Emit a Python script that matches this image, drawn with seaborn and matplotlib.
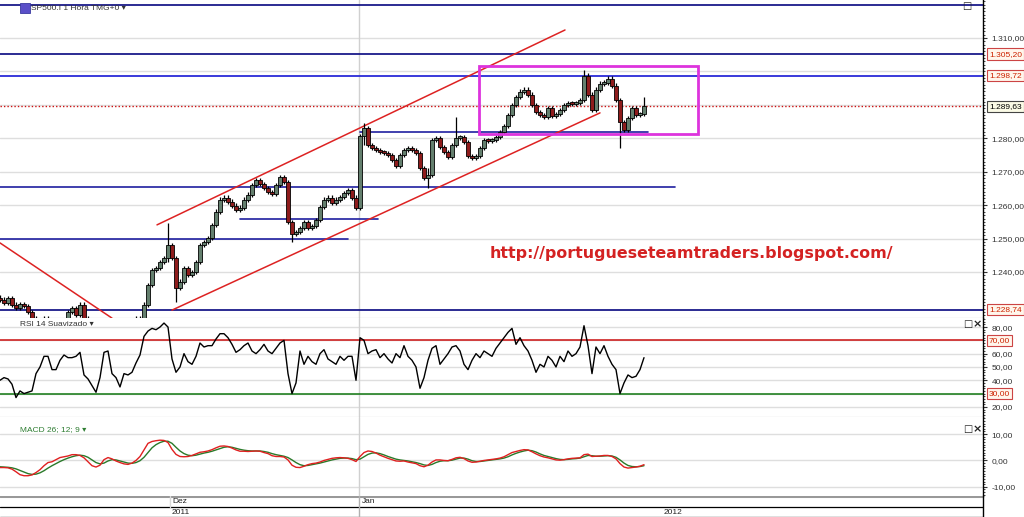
import numpy as np
import pandas as pd
import matplotlib
matplotlib.use("Agg")
import matplotlib.pyplot as plt
import seaborn as sns
from matplotlib.patches import Rectangle
from matplotlib.ticker import FuncFormatter, MultipleLocator
from matplotlib.transforms import blended_transform_factory

sns.set_style("white")
plt.rcParams['font.family'] = ['Liberation Sans', 'DejaVu Sans']

# ---------------- data (hourly bars, SP500) ----------------
close = [
    1231.7, 1230.7, 1232.2, 1230.2, 1229.2, 1230.4, 1229.8, 1228.0, 1226.2, 1225.0,
    1224.1, 1226.2, 1225.0, 1223.8, 1223.2, 1223.8, 1225.0, 1228.0, 1229.2, 1227.1,
    1230.2, 1226.2, 1224.4, 1223.2, 1222.6, 1222.6, 1223.2, 1223.8, 1223.2, 1222.6,
    1223.8, 1224.4, 1223.8, 1225.0, 1226.2, 1225.0, 1230.2, 1236.1, 1240.6, 1241.2,
    1243.0, 1244.2, 1248.1, 1244.2, 1235.2, 1237.1, 1241.2, 1239.1, 1240.0, 1243.0,
    1248.1, 1249.0, 1250.2, 1254.1, 1258.0, 1261.6, 1262.2, 1261.0, 1259.8, 1258.6,
    1259.2, 1261.6, 1263.1, 1266.0, 1267.5, 1266.3, 1265.1, 1263.9, 1263.3, 1266.0,
    1268.4, 1266.9, 1255.0, 1251.4, 1252.0, 1253.2, 1255.0, 1253.2, 1253.8, 1255.6,
    1259.4, 1261.6, 1262.2, 1260.6, 1261.6, 1262.4, 1263.6, 1264.5, 1262.2, 1259.2,
    1280.7, 1283.1, 1278.0, 1277.1, 1276.5, 1275.9, 1275.6, 1275.0, 1273.5, 1271.7,
    1275.0, 1276.5, 1277.1, 1276.5, 1275.6, 1271.1, 1268.1, 1269.0, 1279.5, 1280.1,
    1277.4, 1275.9, 1274.4, 1278.0, 1280.1, 1280.4, 1278.9, 1274.7, 1274.1, 1274.7,
    1277.1, 1279.5, 1279.2, 1279.5, 1280.4, 1281.9, 1283.7, 1287.0, 1290.0, 1292.4,
    1293.9, 1294.5, 1293.0, 1290.0, 1287.9, 1287.0, 1286.4, 1289.1, 1286.7, 1287.3,
    1288.5, 1290.0, 1290.6, 1290.3, 1290.6, 1291.5, 1298.7, 1293.0, 1288.5, 1294.5,
    1296.3, 1296.6, 1297.8, 1295.7, 1291.5, 1284.9, 1282.5, 1286.1, 1289.1, 1287.0,
    1287.3, 1289.6,
]
wick_idx = [42, 44, 73, 91, 107, 114, 146, 155, 161]
wick_lo = [1243.0, 1230.9, 1249.0, 1278.0, 1265.2, 1278.0, 1291.0, 1277.1, 1287.0]
wick_hi = [1254.7, 1244.0, 1255.5, 1284.5, 1271.0, 1286.4, 1300.5, 1285.5, 1292.4]

rsi = [
    40, 42, 41, 37, 27, 32, 30, 31, 32, 45,
    50, 58, 58, 48, 48, 55, 59, 57, 57, 58,
    61, 44, 41, 36, 31, 42, 61, 62, 45, 42,
    35, 45, 44, 46, 53, 59, 73, 77, 79, 78,
    80, 83, 80, 56, 46, 50, 60, 54, 52, 58,
    68, 65, 66, 66, 71, 75, 75, 72, 67, 61,
    63, 66, 68, 62, 60, 63, 67, 62, 60, 64,
    68, 70, 45, 30, 38, 62, 52, 58, 54, 52,
    60, 63, 56, 54, 52, 58, 55, 58, 58, 40,
    72, 70, 60, 62, 63, 57, 60, 56, 53, 60,
    57, 66, 58, 55, 50, 34, 42, 55, 64, 66,
    52, 56, 60, 65, 66, 62, 52, 48, 55, 60,
    57, 62, 60, 58, 64, 68, 72, 76, 79, 67,
    72, 66, 62, 55, 46, 52, 50, 58, 55, 50,
    58, 54, 62, 58, 60, 65, 81, 66, 45, 65,
    60, 66, 58, 52, 48, 30, 38, 44, 42, 43,
    48, 57,
]

macd = [
    -2.7, -2.7, -2.8, -3.3, -4.3, -5.4, -5.8, -5.8, -5.5, -4.6,
    -3.5, -2.0, -0.8, -0.5, 0.3, 1.1, 1.4, 1.7, 2.2, 2.2,
    1.9, 1.0, -0.5, -2.0, -2.5, -1.8, 0.3, 1.1, 0.6, -0.2,
    -0.8, -1.3, -1.5, -1.0, 0.0, 1.5, 4.0, 6.5, 7.2, 7.5,
    7.7, 7.6, 6.8, 4.2, 2.3, 1.5, 1.4, 1.5, 1.9, 2.5,
    3.1, 3.3, 3.6, 4.1, 4.8, 5.4, 5.5, 5.3, 4.7, 4.0,
    3.5, 3.5, 3.4, 3.5, 3.6, 3.5, 3.0, 2.6, 1.8, 1.5,
    1.5, 1.3, 0.2, -1.8, -2.6, -2.7, -2.2, -1.6, -1.2, -1.0,
    -0.6, 0.0, 0.4, 0.8, 1.0, 1.1, 1.0, 0.8, 0.3, -0.4,
    1.5, 3.0, 3.6, 3.4, 2.8, 2.0, 1.4, 0.8, 0.3, -0.2,
    -0.3, -0.2, -0.6, -0.9, -1.2, -2.0, -2.4, -1.8, -0.6, 0.2,
    0.2, 0.0, -0.1, 0.4, 1.0, 1.2, 0.7, -0.2, -0.7, -0.6,
    -0.3, 0.0, 0.2, 0.4, 0.6, 0.9, 1.4, 2.2, 3.0, 3.4,
    3.8, 4.1, 4.0, 3.3, 2.5, 1.8, 1.3, 1.0, 0.6, 0.2,
    0.1, 0.3, 0.6, 0.8, 0.9, 1.0, 2.2, 2.4, 1.5, 1.6,
    1.7, 1.9, 1.9, 1.5, 0.6, -1.2, -2.5, -2.9, -2.7, -2.5,
    -2.2, -1.6,
]
signal = [
    -2.4, -2.5, -2.6, -2.8, -3.2, -3.8, -4.4, -5.0, -5.3, -5.2,
    -4.7, -3.9, -2.9, -2.0, -1.2, -0.4, 0.3, 0.9, 1.4, 1.8,
    2.0, 1.8, 1.2, 0.2, -0.8, -1.3, -1.0, -0.2, 0.3, 0.2,
    -0.2, -0.6, -1.0, -1.1, -0.8, -0.1, 1.2, 3.0, 4.8, 6.0,
    6.8, 7.3, 7.3, 6.5, 5.0, 3.6, 2.6, 2.0, 1.8, 2.0,
    2.4, 2.8, 3.1, 3.5, 4.0, 4.5, 5.0, 5.2, 5.0, 4.6,
    4.2, 3.9, 3.7, 3.6, 3.6, 3.6, 3.4, 3.1, 2.6, 2.2,
    1.9, 1.6, 1.1, 0.2, -0.8, -1.6, -2.0, -1.9, -1.6, -1.3,
    -1.0, -0.6, -0.2, 0.2, 0.5, 0.8, 0.9, 0.9, 0.7, 0.3,
    0.5, 1.4, 2.3, 2.8, 2.9, 2.6, 2.1, 1.5, 1.0, 0.5,
    0.2, 0.0, -0.2, -0.5, -0.8, -1.2, -1.7, -1.9, -1.5, -0.8,
    -0.3, -0.1, -0.1, 0.1, 0.5, 0.9, 0.9, 0.5, -0.1, -0.4,
    -0.4, -0.2, 0.0, 0.2, 0.4, 0.6, 0.9, 1.4, 2.1, 2.7,
    3.2, 3.6, 3.9, 3.7, 3.2, 2.5, 1.9, 1.5, 1.1, 0.7,
    0.4, 0.3, 0.4, 0.6, 0.7, 0.9, 1.4, 1.9, 1.8, 1.6,
    1.6, 1.7, 1.8, 1.7, 1.2, 0.2, -1.0, -1.9, -2.3, -2.4,
    -2.3, -2.0,
]

# support / resistance levels: (price, start bar, end bar)
full_levels = [1319.9, 1305.20, 1298.72, 1228.74]
part_levels = [(1265.5, 0, 168.75), (1250.0, 0, 87.0), (1256.0, 60.0, 94.5), (1281.9, 90.0, 162.0)]
last_price = 1289.63
# trend lines: ((bar0, price0), (bar1, price1))
trend_lines = [((39.25, 1254.1), (141.25, 1312.4)),
               ((43.0, 1228.6), (150.0, 1287.6)),
               ((0.0, 1248.7), (28.0, 1226.2))]
range_box = (119.75, 1281.3, 174.5, 1301.6)
blog_url = "http://portugueseteamtraders.blogspot.com/"

date_labels_top = [("Dez", 43.0), ("Jan", 90.5)]
date_labels_bot = [("2011", 43.0), ("2012", 166.0)]
jan_bar = 89.75
dez_bar = 42.5

price_ticks = [1240, 1250, 1260, 1270, 1280, 1310]
price_grid = [1240, 1250, 1260, 1270, 1280, 1290, 1300, 1310]
rsi_ticks = [20, 40, 50, 60, 80]
rsi_grid = [20, 30, 40, 50, 60, 70, 80]
macd_ticks = [-10, 0, 10]

# ---------------- figure ----------------
W, H = 1024, 517
fig = plt.figure(figsize=(W / 100, H / 100), dpi=100)
fig.patch.set_facecolor("white")


def ax_px(x0, y0, x1, y1):
    return fig.add_axes([x0 / W, 1 - y1 / H, (x1 - x0) / W, (y1 - y0) / H])


XR = 983 / 4.0
axp = ax_px(0, 0, 983, 318)
axr = ax_px(0, 318, 983, 417)
axm = ax_px(0, 417, 983, 496)
axd = ax_px(0, 496, 983, 517)


def br(v, pos=None):
    s = f"{v:,.2f}"
    return s.replace(",", "X").replace(".", ",").replace("X", ".")


GRID = "#dedede"
for ax in (axp, axr, axm, axd):
    ax.set_facecolor("white")
    ax.set_xlim(0, XR)
    ax.set_xticks([])
    for s in ("top", "left", "bottom"):
        ax.spines[s].set_visible(False)
    ax.spines["right"].set_color("black")
    ax.spines["right"].set_linewidth(1.0)
    ax.yaxis.tick_right()
    ax.tick_params(axis="y", which="major", length=3, width=0.8, pad=3,
                   labelsize=6, labelcolor="#333333", colors="#333333")
    ax.tick_params(axis="y", which="minor", length=1.5, width=0.6, right=True)

# ---- price panel ----
axp.set_ylim(1226.24, 1321.37)
for g in price_grid:
    axp.axhline(g, color=GRID, lw=1, zorder=0)
axp.axvline(jan_bar, color="#d0d0d0", lw=1, zorder=0)
axp.set_yticks(price_ticks)
axp.yaxis.set_major_formatter(FuncFormatter(br))
axp.yaxis.set_minor_locator(MultipleLocator(1))
axp.spines["bottom"].set_visible(True)
axp.spines["bottom"].set_color("#9a9a9a")

xs = np.arange(len(close))
opens = np.array([close[0] + 0.6] + close[:-1])
cl = np.array(close)
lo_b = np.minimum(opens, cl)
hi_b = np.maximum(opens, cl)
body = np.maximum(hi_b - lo_b, 0.6)
wl = lo_b - 0.7
wh = hi_b + 0.7
for i, lo, hi in zip(wick_idx, wick_lo, wick_hi):
    wl[i] = min(wl[i], lo)
    wh[i] = max(wh[i], hi)
up = cl >= opens
cols = np.where(up, "#647f6e", "#8e1c1c")
axp.vlines(xs, wl, wh, color="black", lw=0.9, zorder=3)
axp.bar(xs, body, bottom=lo_b, width=0.8, color=cols, edgecolor="black",
        linewidth=0.6, zorder=4)

for lv in full_levels:
    c = "#2a2ad8" if abs(lv - 1298.72) < 0.01 else "#1a1a8a"
    axp.axhline(lv, color=c, lw=1.3, zorder=2)
for lv, a, b in part_levels:
    axp.plot([a, b], [lv, lv], color="#1f1fa0", lw=1.2, zorder=2)
axp.axhline(last_price, color="#cc1111", lw=1.0, ls=(0, (1, 1.5)), zorder=2)
for (a, b) in trend_lines:
    axp.plot([a[0], b[0]], [a[1], b[1]], color="#dd2222", lw=1.1, zorder=2)
bx0, by0, bx1, by1 = range_box
axp.add_patch(Rectangle((bx0, by0), bx1 - bx0, by1 - by0, fill=False,
                        ec="#dd33dd", lw=2, zorder=5))

axp.text(0.4985, 1245.4, blog_url,
         transform=blended_transform_factory(axp.transAxes, axp.transData),
         color="#d42222", fontsize=11.4, fontweight="bold",
         family=["DejaVu Sans"], ha="left", va="center", zorder=6)

btr = blended_transform_factory(axp.transAxes, axp.transData)
for lv in [1305.20, 1298.72, 1228.74]:
    axp.text(1.006, lv, br(lv), transform=btr, fontsize=6, color="#cc2200",
             ha="left", va="center", clip_on=False, zorder=10,
             bbox=dict(boxstyle="square,pad=0.25", fc="#fff6ec", ec="#cc4444", lw=0.8))
axp.text(1.006, last_price, br(last_price), transform=btr, fontsize=6, color="black",
         ha="left", va="center", clip_on=False, zorder=10,
         bbox=dict(boxstyle="square,pad=0.25", fc="#fbfbe6", ec="#444444", lw=0.8))

# ---- RSI panel ----
axr.set_ylim(12.4, 86.8)
for g in rsi_grid:
    axr.axhline(g, color=GRID, lw=1, zorder=0)
axr.axvline(jan_bar, color="#d0d0d0", lw=1, zorder=0)
axr.axhline(70, color="#cc1111", lw=1.1, zorder=2)
axr.axhline(30, color="#117711", lw=1.1, zorder=2)
sns.lineplot(x=xs, y=rsi, ax=axr, color="black", lw=1.0, zorder=3)
axr.set_yticks(rsi_ticks)
axr.yaxis.set_major_formatter(FuncFormatter(br))
axr.yaxis.set_minor_locator(MultipleLocator(2))
axr.set_ylabel("")
btr_r = blended_transform_factory(axr.transAxes, axr.transData)
for lv in [70, 30]:
    axr.text(1.006, lv, br(lv), transform=btr_r, fontsize=6, color="#cc2200",
             ha="left", va="center", clip_on=False, zorder=10,
             bbox=dict(boxstyle="square,pad=0.25", fc="#fff6ec", ec="#cc4444", lw=0.8))
axr.spines["bottom"].set_visible(True)
axr.spines["bottom"].set_color("#9a9a9a")

# ---- MACD panel ----
axm.set_ylim(-13.5, 16.5)
for g in macd_ticks:
    axm.axhline(g, color=GRID, lw=1, zorder=0)
axm.axvline(jan_bar, color="#d0d0d0", lw=1, zorder=0)
sns.lineplot(x=xs, y=signal, ax=axm, color="#2a7a2a", lw=1.0, zorder=3)
sns.lineplot(x=xs, y=macd, ax=axm, color="#e02020", lw=1.0, zorder=4)
axm.set_yticks(macd_ticks)
axm.yaxis.set_major_formatter(FuncFormatter(br))
axm.yaxis.set_minor_locator(MultipleLocator(1))
axm.set_ylabel("")

# ---- date strip ----
axd.set_ylim(0, 21)
axd.set_yticks([])
axd.axhline(21, color="#999999", lw=2.2)
axd.axhline(10, color="black", lw=0.9)
axd.axhline(0.3, color="black", lw=0.9)
axd.plot([jan_bar, jan_bar], [0, 21], color="#b0b0b0", lw=1)
axd.plot([dez_bar, dez_bar], [10, 21], color="#d8d8d8", lw=1)
for t, xb in date_labels_top:
    axd.text(xb, 15.5, t, fontsize=6, color="#222222", ha="left", va="center")
for t, xb in date_labels_bot:
    axd.text(xb, 5, t, fontsize=6, color="#222222", ha="left", va="center")

# ---- panel captions and icons ----
def ftext(x, y, s, **kw):
    fig.text(x / W, 1 - y / H, s, **kw)

fig.add_artist(Rectangle((20 / W, 1 - 13 / H), 10 / W, 10 / H, transform=fig.transFigure,
                         fc="#5a4fc8", ec="#3a3aa0", lw=0.6))
ftext(31, 8, "SP500.I 1 Hora TMG+0 \u25be", fontsize=6, color="#333333", va="center")
ftext(20, 325, "RSI 14 Suavizado \u25be", fontsize=6, color="#333333", va="center")
ftext(20, 430, "MACD 26; 12; 9 \u25be", fontsize=6, color="#2e7d32", va="center")
for y in (324, 429):
    ftext(963, y, "\u25a1", fontsize=7, color="#222222", va="center", family=["DejaVu Sans"])
    ftext(973, y, "\u00d7", fontsize=8, color="#222222", va="center", fontweight="bold",
          family=["DejaVu Sans"])
ftext(962, 6, "\u25a1", fontsize=7, color="#222222", va="center", family=["DejaVu Sans"])

fig.savefig("out.png", dpi=100, facecolor="white")
